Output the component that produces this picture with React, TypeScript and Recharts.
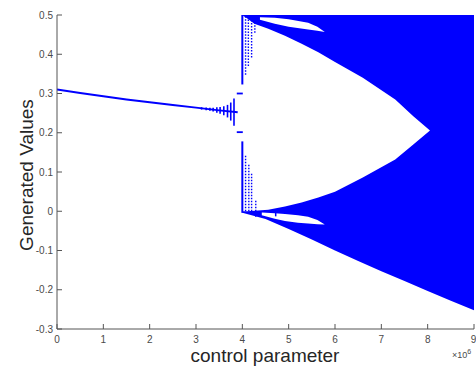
import React from "react";
import {
  ComposedChart,
  Area,
  Line,
  XAxis,
  YAxis,
  ReferenceLine,
} from "recharts";

// ---- axis ticks ----
const xTicks = [0, 1, 2, 3, 4, 5, 6, 7, 8, 9];
const yTicks = [-0.3, -0.2, -0.1, 0, 0.1, 0.2, 0.3, 0.4, 0.5];

// ---- single fixed-point branch (left) ----
const lineX = [0, 0.5, 1, 1.5, 2, 2.5, 3, 3.5, 3.9];
const lineY = [0.31, 0.301, 0.293, 0.285, 0.278, 0.271, 0.264, 0.257, 0.252];

// ---- growing oscillation ticks before x = 4 ----
const spikeX = [3.12, 3.22, 3.3, 3.37, 3.45, 3.52, 3.6, 3.68, 3.75, 3.82];
const spikeLow = [0.259, 0.2575, 0.256, 0.254, 0.251, 0.2485, 0.2445, 0.239, 0.231, 0.218];
const spikeHigh = [0.265, 0.2645, 0.264, 0.264, 0.265, 0.2655, 0.2675, 0.271, 0.277, 0.287];

// ---- short dashes at x ~ 4 ----
const dashY = [0.3, 0.2015];
const dashFrom = [3.88, 3.88];
const dashTo = [4.01, 4.01];

// ---- vertical jumps at x = 4 ----
const jumpX = [4.0, 4.0];
const jumpLow = [0.323, -0.004];
const jumpHigh = [0.5, 0.178];

// ---- chaotic band (outer envelope) ----
const bandX = [4.0, 4.5, 5.0, 5.5, 6.0, 6.5, 7.0, 7.5, 8.0, 8.5, 9.0];
const bandLow = [-0.004, -0.02, -0.045, -0.072, -0.1, -0.127, -0.153, -0.178, -0.203, -0.228, -0.252];
const bandHigh = [0.5, 0.5, 0.5, 0.5, 0.5, 0.5, 0.5, 0.5, 0.5, 0.5, 0.5];

// ---- white wedge inside the band ----
const wedgeX = [3.99, 4.1, 4.26, 4.56, 4.92, 5.28, 5.64, 6.0, 6.6, 7.3, 7.69, 8.05];
const wedgeLow = [0.0, 0.0, 0.001, 0.004, 0.012, 0.022, 0.035, 0.05, 0.086, 0.132, 0.17, 0.206];
const wedgeHigh = [0.5, 0.492, 0.478, 0.465, 0.447, 0.427, 0.405, 0.38, 0.34, 0.285, 0.242, 0.206];

// ---- white lens in the upper band ----
const upLensX = [4.38, 4.7, 5.0, 5.42, 5.62, 5.78];
const upLensLow = [0.488, 0.478, 0.47, 0.463, 0.46, 0.457];
const upLensHigh = [0.494, 0.493, 0.489, 0.48, 0.47, 0.457];

// ---- white lens in the lower band ----
const lowLensX = [4.42, 4.7, 4.92, 5.2, 5.42, 5.62, 5.78];
const lowLensLow = [-0.01, -0.019, -0.025, -0.029, -0.031, -0.033, -0.034];
const lowLensHigh = [-0.003, -0.005, -0.007, -0.01, -0.014, -0.022, -0.034];

// ---- dotted columns just after x = 4 ----
const upDotX = [4.07, 4.13, 4.2, 4.27];
const upDotLow = [0.348, 0.37, 0.392, 0.455];
const upDotHigh = [0.5, 0.5, 0.5, 0.5];
const lowDotX = [4.07, 4.14, 4.2, 4.29];
const lowDotLow = [0.0, 0.0, 0.0, 0.0];
const lowDotHigh = [0.145, 0.12, 0.099, 0.03];

// ---- small bars in the lower lens start ----
const barX = [4.29, 4.38, 4.72];
const barLow = [-0.014, -0.014, -0.013];
const barHigh = [0.0, 0.0, -0.001];

const toRange = (xs: number[], lo: number[], hi: number[]) =>
  xs.map((x, i) => ({ x, r: [lo[i], hi[i]] }));

const lineData = lineX.map((x, i) => ({ x, y: lineY[i] }));
const bandData = toRange(bandX, bandLow, bandHigh);
const wedgeData = toRange(wedgeX, wedgeLow, wedgeHigh);
const upLensData = toRange(upLensX, upLensLow, upLensHigh);
const lowLensData = toRange(lowLensX, lowLensLow, lowLensHigh);

const BLUE = "#0000ff";
const AXIS = "#555555";
const FONT = "'Liberation Sans', Arial, sans-serif";

const tickStyle = { fill: "#4a4a4a", fontSize: 10, fontFamily: FONT };

export default function App() {
  return (
    <div
      style={{
        position: "absolute",
        left: 0,
        top: 0,
        width: 476,
        height: 366,
        background: "#fff",
      }}
    >
      <ComposedChart
        width={476}
        height={366}
        margin={{ top: 15, right: 2, left: 0, bottom: 0 }}
      >
        <XAxis
          dataKey="x"
          type="number"
          domain={[0, 9]}
          ticks={xTicks}
          height={37}
          tickSize={-5}
          tickMargin={12}
          tick={tickStyle}
          axisLine={{ stroke: AXIS }}
          tickLine={{ stroke: AXIS }}
          allowDataOverflow
        />
        <XAxis
          xAxisId="top"
          orientation="top"
          dataKey="x"
          type="number"
          domain={[0, 9]}
          ticks={xTicks}
          height={0}
          tickSize={-5}
          tick={false}
          axisLine={{ stroke: AXIS }}
          tickLine={{ stroke: AXIS }}
          allowDataOverflow
        />
        <YAxis
          type="number"
          domain={[-0.3, 0.5]}
          ticks={yTicks}
          width={57}
          tickSize={-5}
          tickMargin={9}
          tick={tickStyle}
          tickFormatter={(v: number) => String(Number(v.toFixed(1)))}
          axisLine={{ stroke: AXIS }}
          tickLine={{ stroke: AXIS }}
          allowDataOverflow
        />
        <YAxis
          yAxisId="right"
          orientation="right"
          type="number"
          domain={[-0.3, 0.5]}
          ticks={yTicks}
          width={0}
          tickSize={-5}
          tick={false}
          axisLine={{ stroke: AXIS }}
          tickLine={{ stroke: AXIS }}
          allowDataOverflow
        />

        <Area
          data={bandData}
          dataKey="r"
          type="linear"
          fill={BLUE}
          fillOpacity={1}
          stroke="none"
          isAnimationActive={false}
          activeDot={false}
        />
        <Area
          data={wedgeData}
          dataKey="r"
          type="linear"
          fill="#ffffff"
          fillOpacity={1}
          stroke="none"
          isAnimationActive={false}
          activeDot={false}
        />
        <Area
          data={upLensData}
          dataKey="r"
          type="linear"
          fill="#ffffff"
          fillOpacity={1}
          stroke="none"
          isAnimationActive={false}
          activeDot={false}
        />
        <Area
          data={lowLensData}
          dataKey="r"
          type="linear"
          fill="#ffffff"
          fillOpacity={1}
          stroke="none"
          isAnimationActive={false}
          activeDot={false}
        />
        <Line
          data={lineData}
          dataKey="y"
          type="linear"
          stroke={BLUE}
          strokeWidth={2}
          dot={false}
          activeDot={false}
          isAnimationActive={false}
        />

        {spikeX.map((x, i) => (
          <ReferenceLine
            key={`s${i}`}
            segment={[
              { x, y: spikeLow[i] },
              { x, y: spikeHigh[i] },
            ]}
            stroke={BLUE}
            strokeWidth={1.6}
            ifOverflow="visible"
          />
        ))}
        {dashY.map((y, i) => (
          <ReferenceLine
            key={`d${i}`}
            segment={[
              { x: dashFrom[i], y },
              { x: dashTo[i], y },
            ]}
            stroke={BLUE}
            strokeWidth={1.8}
            ifOverflow="visible"
          />
        ))}
        {jumpX.map((x, i) => (
          <ReferenceLine
            key={`j${i}`}
            segment={[
              { x, y: jumpLow[i] },
              { x, y: jumpHigh[i] },
            ]}
            stroke={BLUE}
            strokeWidth={2}
            ifOverflow="visible"
          />
        ))}
        {upDotX.map((x, i) => (
          <ReferenceLine
            key={`u${i}`}
            segment={[
              { x, y: upDotLow[i] },
              { x, y: upDotHigh[i] },
            ]}
            stroke={BLUE}
            strokeWidth={1.4}
            strokeDasharray="1.5 1.5"
            ifOverflow="visible"
          />
        ))}
        {lowDotX.map((x, i) => (
          <ReferenceLine
            key={`l${i}`}
            segment={[
              { x, y: lowDotLow[i] },
              { x, y: lowDotHigh[i] },
            ]}
            stroke={BLUE}
            strokeWidth={1.4}
            strokeDasharray="1.5 1.5"
            ifOverflow="visible"
          />
        ))}
        {barX.map((x, i) => (
          <ReferenceLine
            key={`b${i}`}
            segment={[
              { x, y: barLow[i] },
              { x, y: barHigh[i] },
            ]}
            stroke={BLUE}
            strokeWidth={1.5}
            ifOverflow="visible"
          />
        ))}
      </ComposedChart>

      <svg
        width={476}
        height={366}
        style={{ position: "absolute", left: 0, top: 0, pointerEvents: "none" }}
      >
        <text
          transform="translate(33,175) rotate(-90)"
          textAnchor="middle"
          fontSize={19}
          fontFamily={FONT}
          fill="#262626"
        >
          Generated Values
        </text>
        <text
          x={265}
          y={362}
          textAnchor="middle"
          fontSize={19}
          fontFamily={FONT}
          fill="#262626"
        >
          control parameter
        </text>
        <text x={452} y={358} fontSize={9} fontFamily={FONT} fill="#4a4a4a">
          ×10
          <tspan dy={-4} fontSize={7}>
            6
          </tspan>
        </text>
      </svg>
    </div>
  );
}
